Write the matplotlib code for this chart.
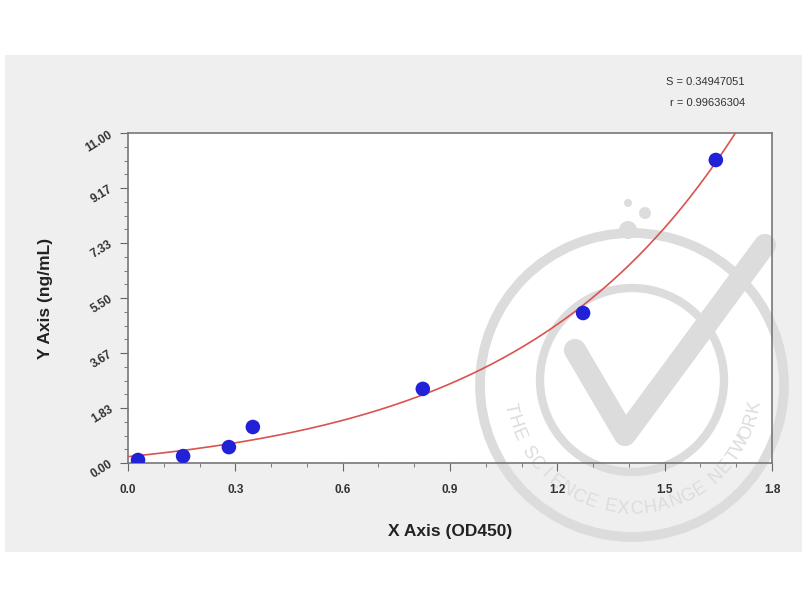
import numpy as np
import matplotlib.pyplot as plt
from matplotlib.patches import Circle, Rectangle
from matplotlib.ticker import MultipleLocator, FixedLocator

plt.rcParams['font.family'] = ['Liberation Sans', 'DejaVu Sans']

# standard curve points
od450 = [0.028, 0.154, 0.282, 0.349, 0.824, 1.272, 1.643]
conc = [0.10, 0.23, 0.53, 1.20, 2.47, 5.00, 10.10]

y_ticks = [0.00, 1.83, 3.67, 5.50, 7.33, 9.17, 11.00]
y_labels = ['0.00', '1.83', '3.67', '5.50', '7.33', '9.17', '11.00']
x_ticks = [0.0, 0.3, 0.6, 0.9, 1.2, 1.5, 1.8]

s_text = 'S = 0.34947051'
r_text = 'r = 0.99636304'
wm_text = 'THE SCIENCE EXCHANGE NETWORK'


def fit_exp(x, y):
    # y = a*exp(b*x) + c, grid over b, linear least squares for a, c
    x = np.asarray(x); y = np.asarray(y)
    best = None
    for b in np.linspace(0.5, 4, 701):
        A = np.column_stack([np.exp(b * x), np.ones_like(x)])
        sol, res, *_ = np.linalg.lstsq(A, y, rcond=None)
        err = np.sum((A @ sol - y) ** 2)
        if best is None or err < best[0]:
            best = (err, sol[0], b, sol[1])
    return best[1:]


fig = plt.figure(figsize=(8.1, 6.1), dpi=100)
fig.patch.set_facecolor('white')

# gray panel and white plot area
fig.patches.append(Rectangle((5, 58), 797, 497, transform=None,
                             facecolor='#efefef', edgecolor='none', zorder=-10))
fig.patches.append(Rectangle((128, 147), 644, 330, transform=None,
                             facecolor='white', edgecolor='none', zorder=-9))

# faint watermark
wc = '#dcdcdc'
cx, cy = 632, 610 - 385
fig.patches.append(Circle((cx, cy), 152, transform=None, facecolor='none',
                          edgecolor=wc, lw=7, zorder=-2))
fig.patches.append(Circle((cx, cy + 5), 92, transform=None, facecolor='none',
                          edgecolor=wc, lw=6, zorder=-2))
fig.lines.append(plt.Line2D([575, 625, 765], [610 - 350, 610 - 435, 610 - 245],
                            transform=None, color=wc, lw=16, zorder=-1,
                            solid_capstyle='round', solid_joinstyle='round'))
for ctr, r in [((628, 610 - 230), 9), ((645, 610 - 213), 6), ((628, 610 - 203), 4)]:
    fig.patches.append(Circle(ctr, r, transform=None, facecolor=wc,
                              edgecolor='none', zorder=-2))
# letters along the ring, spaces given half a step
steps = [0.5 if ch == ' ' else 1.0 for ch in wm_text]
pos = np.cumsum(steps) - np.array(steps) / 2
angs = 188 + (350 - 188) * pos / pos[-1]
for ch, a in zip(wm_text, angs):
    if ch == ' ':
        continue
    t = np.deg2rad(a)
    fig.text(cx + 124 * np.cos(t), cy + 124 * np.sin(t), ch, transform=None,
             ha='center', va='center', rotation=a + 90, fontsize=13,
             color=wc, zorder=-2)

ax = fig.add_axes([128/810, 147/610, 644/810, 330/610])
ax.set_facecolor('none')

# fitted curve through the standard points
a, b, c = fit_exp(od450, conc)
xs = np.linspace(0, 1.8, 300)
ys = a * np.exp(b * xs) + c
ax.plot(xs, ys, color='#d9534f', lw=1.2, zorder=3)
ax.scatter(od450, conc, s=110, color='#2121d8', zorder=4, edgecolors='none')

ax.set_xlim(0, 1.8)
ax.set_ylim(0, 11)
ax.xaxis.set_major_locator(FixedLocator(x_ticks))
ax.xaxis.set_minor_locator(MultipleLocator(0.1))
ax.yaxis.set_major_locator(FixedLocator(y_ticks))
ax.yaxis.set_minor_locator(MultipleLocator(11/24))
ax.set_xticklabels([f'{v:.1f}' for v in x_ticks], fontsize=8.5, fontweight='bold', color='#333333')
ax.set_yticklabels(y_labels, fontsize=8.5, fontweight='bold', color='#333333', rotation=32)
ax.tick_params(axis='x', which='major', pad=9)
ax.tick_params(which='major', direction='out', length=6, color='#666666')
ax.tick_params(which='minor', direction='out', length=3, color='#666666')
for sp in ax.spines.values():
    sp.set_color('#777777')
    sp.set_linewidth(1.2)

ax.set_xlabel('X Axis (OD450)', fontsize=12.5, fontweight='bold', color='#222222', labelpad=20)
ax.set_ylabel('Y Axis (ng/mL)', fontsize=12.5, fontweight='bold', color='#222222', labelpad=22)

fig.text(745/810, 1 - 82/610, s_text, ha='right', va='center', fontsize=8, color='#333333')
fig.text(745/810, 1 - 103/610, r_text, ha='right', va='center', fontsize=8, color='#333333')

fig.savefig('out.png', dpi=100, facecolor=fig.get_facecolor())
